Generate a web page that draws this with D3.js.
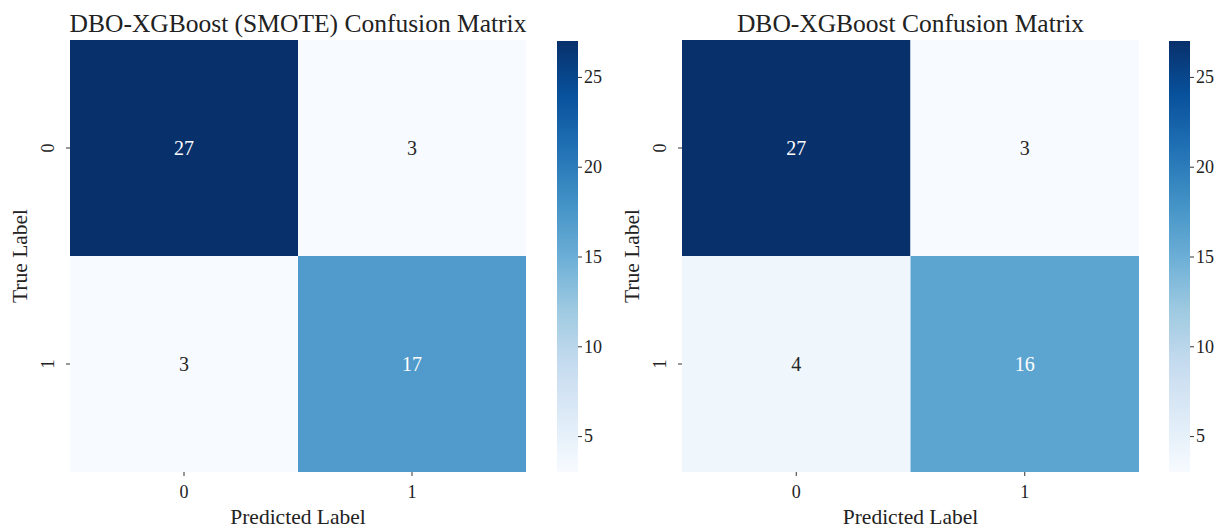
<!DOCTYPE html>
<html>
<head>
<meta charset="utf-8">
<script src="https://cdn.jsdelivr.net/npm/d3@7"></script>
<style>
  html, body { margin: 0; padding: 0; background: #fff; }
  svg { display: block; }
  text { font-family: "Liberation Serif", "Times New Roman", serif; fill: #222; }
</style>
</head>
<body>
<svg id="chart" width="1226" height="528"></svg>
<script>
// Class labels shared by both matrices
const classLabels = ["0", "1"];

// Confusion matrix counts (rows = true label, cols = predicted label)
const smoteMatrix = [[27, 3], [3, 17]];
const plainMatrix = [[27, 3], [4, 16]];

const panelTitles = ["DBO-XGBoost (SMOTE) Confusion Matrix", "DBO-XGBoost Confusion Matrix"];
const colorbarTicks = [5, 10, 15, 20, 25];
const colorDomain = [3, 27];

// matplotlib "Blues" stops (linear segments)
const bluesStops = ["#f7fbff", "#deebf7", "#c6dbef", "#9ecae1", "#6baed6", "#4292c6", "#2171b5", "#08519c", "#08306b"];

const svg = d3.select("#chart");

const color = d3.scaleLinear()
  .domain(d3.range(bluesStops.length).map(i => colorDomain[0] + (colorDomain[1] - colorDomain[0]) * i / (bluesStops.length - 1)))
  .range(bluesStops)
  .interpolate(d3.interpolateRgb)
  .clamp(true);

function luminance(c) {
  const rgb = d3.rgb(c);
  const f = v => { v /= 255; return v <= 0.03928 ? v / 12.92 : Math.pow((v + 0.055) / 1.055, 2.4); };
  return 0.2126 * f(rgb.r) + 0.7152 * f(rgb.g) + 0.0722 * f(rgb.b);
}

const panels = [
  { matrix: smoteMatrix, title: panelTitles[0], x0: 70, x1: 526, cbX: 557 },
  { matrix: plainMatrix, title: panelTitles[1], x0: 682, x1: 1139, cbX: 1169 }
];
const y0 = 40, y1 = 472, cbW = 21;
const tickFont = "18px";

const defs = svg.append("defs");

panels.forEach((p, pi) => {
  const g = svg.append("g");

  const x = d3.scaleBand().domain(classLabels).range([p.x0, p.x1]);
  const y = d3.scaleBand().domain(classLabels).range([y0, y1]);

  const cells = [];
  p.matrix.forEach((row, ri) => row.forEach((v, ci) => cells.push({ r: classLabels[ri], c: classLabels[ci], v })));

  g.selectAll("rect.cell").data(cells).join("rect")
    .attr("class", "cell")
    .attr("x", d => x(d.c))
    .attr("y", d => y(d.r))
    .attr("width", x.bandwidth())
    .attr("height", y.bandwidth())
    .attr("fill", d => color(d.v));

  g.selectAll("text.val").data(cells).join("text")
    .attr("class", "val")
    .attr("x", d => x(d.c) + x.bandwidth() / 2)
    .attr("y", d => y(d.r) + y.bandwidth() / 2)
    .attr("text-anchor", "middle")
    .attr("dominant-baseline", "central")
    .style("font-size", "20px")
    .style("fill", d => luminance(color(d.v)) > 0.408 ? "#262626" : "#ffffff")
    .text(d => d.v);

  // x axis
  const xAxis = g.append("g")
    .attr("transform", `translate(0,${y1})`)
    .call(d3.axisBottom(x).tickSize(4).tickPadding(9));
  xAxis.select(".domain").remove();
  xAxis.selectAll("line").attr("stroke", "#333");
  xAxis.selectAll("text").style("font-size", tickFont).style("font-family", "Liberation Serif, serif").attr("fill", "#222");

  // y axis with rotated tick labels
  const yAxis = g.append("g")
    .attr("transform", `translate(${p.x0},0)`)
    .call(d3.axisLeft(y).tickSize(4).tickPadding(6));
  yAxis.select(".domain").remove();
  yAxis.selectAll("line").attr("stroke", "#333");
  yAxis.selectAll("text")
    .style("font-size", tickFont).style("font-family", "Liberation Serif, serif").attr("fill", "#222")
    .attr("text-anchor", "middle")
    .attr("x", -22).attr("dy", "0.32em")
    .attr("transform", "rotate(-90,-22,0)")
    .attr("y", 0);

  // titles and axis labels
  g.append("text")
    .attr("x", (p.x0 + p.x1) / 2).attr("y", 32)
    .attr("text-anchor", "middle")
    .style("font-size", "25.5px")
    .text(p.title);

  g.append("text")
    .attr("x", (p.x0 + p.x1) / 2).attr("y", 524)
    .attr("text-anchor", "middle")
    .style("font-size", "21.5px")
    .text("Predicted Label");

  g.append("text")
    .attr("transform", `translate(${p.x0 - 43},${(y0 + y1) / 2}) rotate(-90)`)
    .attr("text-anchor", "middle")
    .style("font-size", "21.5px")
    .text("True Label");

  // colorbar
  const gradId = "cb-grad-" + pi;
  const grad = defs.append("linearGradient").attr("id", gradId)
    .attr("x1", 0).attr("y1", 1).attr("x2", 0).attr("y2", 0);
  bluesStops.forEach((c, i) => grad.append("stop")
    .attr("offset", i / (bluesStops.length - 1)).attr("stop-color", c));

  const cbScale = d3.scaleLinear().domain(colorDomain).range([y1, y0 + 1]);
  g.append("rect")
    .attr("x", p.cbX).attr("y", y0 + 1)
    .attr("width", cbW).attr("height", y1 - y0 - 1)
    .attr("fill", `url(#${gradId})`);

  const cbAxis = g.append("g")
    .attr("transform", `translate(${p.cbX + cbW},0)`)
    .call(d3.axisRight(cbScale).tickValues(colorbarTicks).tickSize(4).tickPadding(2));
  cbAxis.select(".domain").remove();
  cbAxis.selectAll("line").attr("stroke", "#333");
  cbAxis.selectAll("text").style("font-size", tickFont).style("font-family", "Liberation Serif, serif").attr("fill", "#222");
});
</script>
</body>
</html>
